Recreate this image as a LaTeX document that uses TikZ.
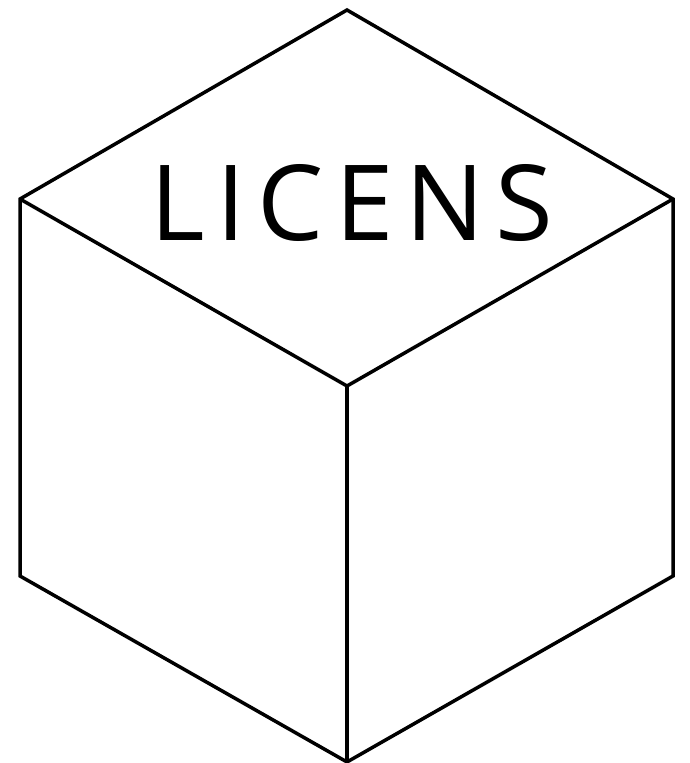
\documentclass[tikz,border=0pt]{standalone}
\usepackage{fontspec}
\newfontfamily\kubfont[LetterSpace=11]{Open Sans}
\tikzset{
  kant/.style={draw=black, line width=3.5pt, line join=miter},
  etikett/.style={font=\kubfont\fontsize{105}{110}\selectfont, inner sep=0pt, anchor=base},
}
\begin{document}
\begin{tikzpicture}[x=1pt, y=-1pt]
  \useasboundingbox (0,0) rectangle (690,763);
  % hoerner
  \coordinate (topp)  at (347,10);
  \coordinate (vo)    at (20,199);
  \coordinate (ho)    at (673,199);
  \coordinate (mitt)  at (347,386);
  \coordinate (vu)    at (20,576);
  \coordinate (hu)    at (673,576);
  \coordinate (botten) at (347,762);
  \draw[kant] (topp) -- (ho) -- (hu) -- (botten) -- (vu) -- (vo) -- cycle;
  \draw[kant] (vo) -- (mitt) -- (ho);
  \draw[kant] (mitt) -- (botten);
  \node[etikett] (licens) at (352,240) {LICENS};
\end{tikzpicture}
\end{document}
